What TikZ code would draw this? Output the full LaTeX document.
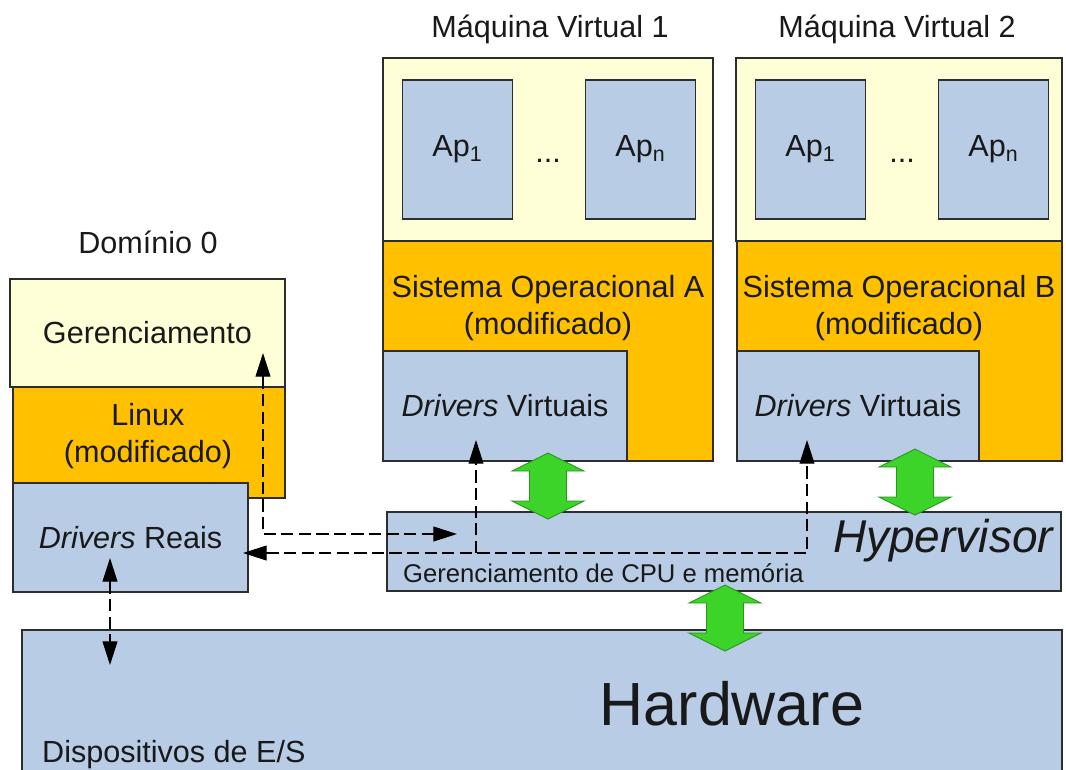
\documentclass[tikz,border=0pt]{standalone}
\usepackage{fontspec}
\setmainfont{Liberation Sans}
\definecolor{Borda}{RGB}{45, 45, 45}
\definecolor{Amarelo}{RGB}{255, 255, 215}
\definecolor{Laranja}{RGB}{255, 192, 0}
\definecolor{Azul}{RGB}{184, 204, 230}
\definecolor{Verde}{RGB}{60, 212, 40}
\definecolor{VerdeEsc}{RGB}{40, 150, 30}
\definecolor{Texto}{RGB}{25, 25, 25}
\usepackage{tikz}
\usetikzlibrary{arrows.meta, calc}
\newcommand{\fsmain}{\fontsize{17.4}{21.5}\selectfont}
\newcommand{\fssmall}{\fontsize{14.6}{17}\selectfont}
\newcommand{\setadupla}[2]{%
  \path[garr] let \p1=#1, \p2=#2 in
    (\x1,\y1) -- ++(0.72cm,-0.36cm) -- ++(-0.35cm,0) -- (\x1+0.37cm,\y2+0.36cm)
    -- ++(0.35cm,0) -- (\x2,\y2) -- ++(-0.72cm,0.36cm) -- ++(0.35cm,0)
    -- (\x1-0.37cm,\y1-0.36cm) -- ++(-0.35cm,0) -- cycle;}

\begin{document}
\begin{tikzpicture}[x=0.02cm, y=-0.02cm,
  box/.style={draw=Borda, line width=0.7pt, inner sep=0pt, align=center, font=\fsmain, text=Texto},
  ybox/.style={box, fill=Amarelo},
  obox/.style={box, fill=Laranja},
  bbox/.style={box, fill=Azul},
  apbox/.style={bbox, minimum width=2.2cm, minimum height=2.78cm},
  lab/.style={font=\fsmain, text=Texto, align=center},
  darr/.style={dash pattern=on 7pt off 3pt, line width=0.7pt, black},
  garr/.style={fill=Verde, draw=VerdeEsc, line width=0.5pt},
  >={Triangle[length=13.5pt, width=8.5pt]}]
\useasboundingbox (0,0) rectangle (1066,769);
% hardware e hypervisor
\node[bbox, minimum width=20.8cm, minimum height=3.2cm] (hw) at (542,710) {};
\node[lab, anchor=base, font=\fontsize{34.7}{40}\selectfont] (hwtxt) at (732,725) {Hardware};
\node[lab, anchor=base west] (es) at (36,762) {Dispositivos de E/S};
\node[bbox, minimum width=13.48cm, minimum height=1.58cm] (hyp) at (724,551.5) {};
\node[lab, anchor=base, font=\fontsize{26.2}{30}\selectfont\itshape] (hyptxt) at (943,552) {Hypervisor};
\node[lab, anchor=base west, font=\fssmall] (cpu) at (397,582) {Gerenciamento de CPU e memória};
% dominio 0
\node[lab, anchor=base] (dom0) at (148,253) {Domínio 0};
\node[ybox, minimum width=5.5cm, minimum height=2.16cm] (ger) at (147.5,333) {Gerenciamento};
\node[obox, minimum width=5.44cm, minimum height=2.22cm] (linux) at (149,442.5) {};
\node[lab] (linuxtxt) at (148,436) {Linux\\(modificado)};
\node[bbox, minimum width=4.7cm, minimum height=2.18cm] (drvR) at (130.5,537.5) {\textit{Drivers} Reais};
% maquina virtual 1
\node[lab, anchor=base] (mv1) at (550,37) {Máquina Virtual 1};
\node[ybox, minimum width=6.6cm, minimum height=3.66cm] (vm1) at (548,149.5) {};
\node[apbox] (ap11) at (457.5,149.5) {Ap\textsubscript{1}};
\node[apbox] (ap1n) at (640.5,149.5) {Ap\textsubscript{n}};
\node[lab, anchor=base] (dots1) at (548,162) {...};
\node[obox, minimum width=6.6cm, minimum height=4.4cm] (so1) at (548,351) {};
\node[lab] (so1txt) at (548,308) {Sistema Operacional A\\(modificado)};
\node[bbox, minimum width=4.88cm, minimum height=2.2cm] (drv1) at (505,406) {\textit{Drivers} Virtuais};
% maquina virtual 2
\node[lab, anchor=base] (mv2) at (897,37) {Máquina Virtual 2};
\node[ybox, minimum width=6.52cm, minimum height=3.66cm] (vm2) at (899,149.5) {};
\node[apbox] (ap21) at (810.5,149.5) {Ap\textsubscript{1}};
\node[apbox] (ap2n) at (993.5,149.5) {Ap\textsubscript{n}};
\node[lab, anchor=base] (dots2) at (902,162) {...};
\node[obox, minimum width=6.5cm, minimum height=4.4cm] (so2) at (899.5,351) {};
\node[lab] (so2txt) at (899,308) {Sistema Operacional B\\(modificado)};
\node[bbox, minimum width=4.84cm, minimum height=2.2cm] (drv2) at (858,406) {\textit{Drivers} Virtuais};
% setas verdes
\coordinate (g1t) at (548,453); \coordinate (g1b) at (548,519);
\coordinate (g2t) at (915,449); \coordinate (g2b) at (915,515);
\coordinate (g3t) at (725,585); \coordinate (g3b) at (725,651);
\setadupla{(g1t)}{(g1b)}
\setadupla{(g2t)}{(g2b)}
\setadupla{(g3t)}{(g3b)}
% setas tracejadas
\coordinate (pGer) at (263,353); \coordinate (pHyp) at (457,534);
\coordinate (pDrvR) at (243,553); \coordinate (pDrv1) at (476,440); \coordinate (pDrv2) at (807,440);
\coordinate (pIO) at (110,558); \coordinate (pHw) at (110,665);
\draw[darr, <->] (pGer) |- (pHyp);
\draw[darr, <->] (pDrvR) -| (pDrv2);
\draw[darr, ->] (pDrv1 |- pDrvR) -- (pDrv1);
\draw[darr, <->] (pIO) -- (pHw);
\end{tikzpicture}
\end{document}
